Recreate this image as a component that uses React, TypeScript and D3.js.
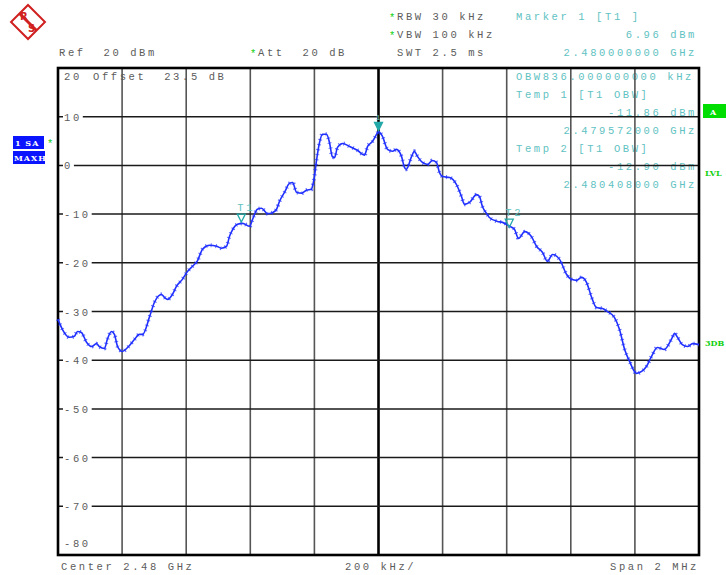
import * as d3 from "d3";
import { useEffect, useRef } from "react";

// trace: offset from centre in kHz, level in dBm
const traceKHz = [
  -1000, -986, -964, -949, -939, -927, -911, -895, -880, -871, -855, -846, -833, -824, -814, -799,
  -783, -761, -746, -736, -714, -699, -677, -668, -658, -643, -630, -612, -596, -580, -565, -549,
  -527, -505, -490, -474, -465, -456, -440, -424, -402, -393, -378, -365, -346, -331, -318, -309,
  -293, -278, -268, -256, -240, -225, -209, -206, -200, -193, -184, -175, -162, -153, -144, -137,
  -128, -112, -90, -66, -44, -34, -19, -3, 0, 12, 28, 44, 56, 72, 81, 87, 103, 112, 122, 137, 153,
  168, 181, 190, 200, 222, 243, 259, 268, 284, 306, 315, 324, 340, 346, 371, 387, 409, 424, 437,
  456, 477, 493, 512, 527, 543, 565, 587, 602, 618, 633, 649, 665, 680, 699, 714, 736, 752, 768,
  783, 805, 821, 836, 852, 870, 892, 914, 924, 933, 948, 964, 980, 1000,
];
const traceDbm = [
  -31.6, -33.7, -35.3, -35.1, -34.1, -34.3, -36.3, -37.2, -36.6, -37.2, -37.6, -35.7, -34.1, -34.7, -37.2, -38.2,
  -37.4, -35.7, -34.7, -34.7, -31.0, -28.1, -26.5, -27.1, -27.5, -26.5, -24.8, -23.4, -21.8, -20.7, -19.6, -17.2,
  -16.4, -16.6, -17.0, -16.6, -14.6, -13.3, -12.1, -11.9, -12.5, -11.1, -9.0, -8.8, -9.9, -9.7, -9.0, -7.4,
  -5.5, -3.7, -3.5, -5.5, -5.7, -5.1, -4.9, -4.3, -2.3, 1.2, 4.7, 6.4, 6.4, 4.7, 1.8, 1.6,
  3.7, 4.5, 3.9, 3.1, 2.1, 3.9, 4.9, 6.7, 6.96, 6.0, 3.3, 2.9, 3.3, 1.8, -0.4, -0.8, 1.8, 2.9, 1.8, 0.6, 0.2,
  1.0, 0.6, -1.4, -2.3, -2.5, -3.9, -6.4, -8.0, -7.6, -6.0, -6.4, -8.4, -10.1, -10.7, -11.5, -11.7, -12.5, -13.1, -15.0,
  -13.6, -14.6, -16.6, -17.9, -19.7, -18.3, -19.3, -22.4, -23.4, -23.6, -23.0, -24.0, -27.1, -29.2, -29.4, -30.0, -31.2, -33.7, -37.8,
  -40.2, -42.7, -42.3, -41.3, -39.2, -37.4, -37.8, -35.7, -34.5, -35.3, -36.8, -37.2, -36.6, -36.8,
];

const yTicks = [10, 0, -10, -20, -30, -40, -50, -60, -70];
const xGrid = d3.range(-1000, 1001, 200);

const markers = [
  { name: "1", f: 0, level: 6.96, filled: true },
  { name: "T1", f: -428, level: -11.86, filled: false },
  { name: "T2", f: 408, level: -12.9, filled: false },
];

const headerLeft = [
  { text: "Ref  20 dBm", x: 59, y: 56 },
  { text: "Att  20 dB", x: 258, y: 56, star: true },
  { text: "RBW 30 kHz", x: 397, y: 20, star: true },
  { text: "VBW 100 kHz", x: 397, y: 38, star: true },
  { text: "SWT 2.5 ms", x: 397, y: 56 },
];
const markerInfoRight = [
  { text: "Marker 1 [T1 ]", y: 20, left: true },
  { text: "6.96 dBm", y: 38 },
  { text: "2.480000000 GHz", y: 56 },
  { text: "OBW836.000000000 kHz", y: 80, left: true },
  { text: "Temp 1 [T1 OBW]", y: 98, left: true },
  { text: "-11.86 dBm", y: 116 },
  { text: "2.479572000 GHz", y: 134 },
  { text: "Temp 2 [T1 OBW]", y: 152, left: true },
  { text: "-12.90 dBm", y: 170 },
  { text: "2.480408000 GHz", y: 188 },
];

const FONT = "'Liberation Mono', 'DejaVu Sans Mono', monospace";
const GRAY = "#5c5c5c";
const TEAL = "#5fc2c2";
const GREEN = "#10d010";

export default function App() {
  const svgRef = useRef<SVGSVGElement>(null);
  const width = 726;
  const height = 575;

  useEffect(() => {
    const svg = d3.select(svgRef.current);
    svg.selectAll("*").remove();

    const x = d3.scaleLinear().domain([-1000, 1000]).range([58, 699]);
    const y = d3.scaleLinear().domain([-80, 20]).range([555, 68]);

    const txt = (g: any, s: string, px: number, py: number, color: string, anchor = "start") =>
      g.append("text")
        .attr("x", px)
        .attr("y", py)
        .attr("fill", color)
        .attr("font-family", FONT)
        .attr("font-size", 10.5)
        .attr("letter-spacing", 2.6)
        .attr("text-anchor", anchor)
        .style("white-space", "pre")
        .text(s);

    // logo
    const logo = svg.append("g").attr("transform", "translate(28,22) rotate(45)");
    logo.append("rect").attr("x", -12).attr("y", -12).attr("width", 24).attr("height", 24)
      .attr("fill", "white").attr("stroke", "#d02020").attr("stroke-width", 2);
    logo.append("line").attr("x1", -12).attr("y1", 0).attr("x2", 12).attr("y2", 0)
      .attr("stroke", "#d02020").attr("stroke-width", 3);
    const logoTxt = svg.append("g").attr("font-family", "'DejaVu Sans'").attr("font-weight", "bold")
      .attr("font-size", 10).attr("fill", "#d02020");
    logoTxt.append("text").attr("x", 20).attr("y", 20).text("R");
    logoTxt.append("text").attr("x", 28).attr("y", 32).text("S");

    // header
    headerLeft.forEach((h) => {
      txt(svg, h.text, h.x, h.y, GRAY);
      if (h.star) txt(svg, "*", h.x - 8, h.y + 1, GREEN);
    });
    markerInfoRight.forEach((m) => {
      if (m.left) txt(svg, m.text, 516, m.y, TEAL);
      else txt(svg, m.text, 697, m.y, TEAL, "end");
    });

    // grid
    const grid = svg.append("g");
    grid.selectAll("line.v")
      .data(xGrid.slice(1, -1))
      .enter()
      .append("line")
      .attr("x1", (d) => x(d))
      .attr("x2", (d) => x(d))
      .attr("y1", y(20))
      .attr("y2", y(-80))
      .attr("stroke", (d) => (d === 0 ? "#000" : "#555"))
      .attr("stroke-width", (d) => (d === 0 ? 2.6 : 1.6));
    grid.selectAll("line.h")
      .data(yTicks)
      .enter()
      .append("line")
      .attr("x1", x(-1000))
      .attr("x2", x(1000))
      .attr("y1", (d) => y(d))
      .attr("y2", (d) => y(d))
      .attr("stroke", "#1a1a1a")
      .attr("stroke-width", 1.5);

    // y labels with white gap
    yTicks.forEach((t) => {
      const s = String(t);
      const w = s.length * 8.9 + 2;
      svg.append("rect").attr("x", 63).attr("y", y(t) - 5).attr("width", w).attr("height", 10).attr("fill", "white");
      txt(svg, s, 64, y(t) + 4, GRAY);
    });
    txt(svg, "20", 64, 80, GRAY);
    txt(svg, "Offset  23.5 dB", 93, 80, GRAY);
    txt(svg, "-80", 64, 547, GRAY);

    // frame
    svg.append("rect")
      .attr("x", x(-1000))
      .attr("y", y(20))
      .attr("width", x(1000) - x(-1000))
      .attr("height", y(-80) - y(20))
      .attr("fill", "none")
      .attr("stroke", "#000")
      .attr("stroke-width", 2.6);

    // trace
    const pts = traceKHz.map((f, i) => [f, traceDbm[i]] as [number, number]);
    const line = d3.line<[number, number]>()
      .x((d) => x(d[0]))
      .y((d) => y(d[1]))
      .curve(d3.curveMonotoneX);
    svg.append("path")
      .attr("d", line(pts))
      .attr("fill", "none")
      .attr("stroke", "#2030ff")
      .attr("stroke-width", 1.6);
    svg.append("path")
      .attr("d", line(pts))
      .attr("fill", "none")
      .attr("stroke", "#2030ff")
      .attr("stroke-width", 4)
      .attr("stroke-dasharray", "1 4")
      .attr("opacity", 0.7);

    // markers
    markers.forEach((m) => {
      const mx = x(m.f);
      const my = y(m.level);
      svg.append("path")
        .attr("d", `M${mx - 4},${my - 9} L${mx + 4},${my - 9} L${mx},${my - 1} Z`)
        .attr("fill", m.filled ? "#22a8a8" : "none")
        .attr("stroke", "#22a8a8")
        .attr("stroke-width", 1.3);
      txt(svg, m.name, mx - (m.filled ? 3 : 4), my - 12, TEAL).attr("font-size", m.filled ? 8 : 10.5);
    });

    // side labels
    svg.append("rect").attr("x", 13).attr("y", 136).attr("width", 31).attr("height", 13).attr("fill", "#0a14ff");
    svg.append("rect").attr("x", 13).attr("y", 151).attr("width", 32).attr("height", 13).attr("fill", "#0a14ff");
    const side = svg.append("g").attr("font-family", "'DejaVu Serif'").attr("font-weight", "bold")
      .attr("font-size", 8).attr("fill", "white").attr("letter-spacing", 1);
    side.append("text").attr("x", 15).attr("y", 146).text("1 SA");
    side.append("text").attr("x", 14).attr("y", 161).text("MAXH");
    txt(svg, "*", 47, 147, GREEN);

    svg.append("rect").attr("x", 703).attr("y", 104).attr("width", 23).attr("height", 14).attr("fill", "#00dd00");
    const right = svg.append("g").attr("font-family", "'DejaVu Serif'").attr("font-weight", "bold").attr("font-size", 8);
    right.append("text").attr("x", 710).attr("y", 115).attr("fill", "white").text("A");
    right.append("text").attr("x", 705).attr("y", 176).attr("fill", GREEN).text("LVL");
    right.append("text").attr("x", 705).attr("y", 346).attr("fill", GREEN).text("3DB");

    // footer
    txt(svg, "Center 2.48 GHz", 61, 570, GRAY);
    txt(svg, "200 kHz/", 345, 570, GRAY);
    txt(svg, "Span 2 MHz", 699, 570, GRAY, "end");
  }, []);

  return (
    <svg
      ref={svgRef}
      width={width}
      height={height}
      style={{ position: "absolute", left: 0, top: 0, background: "white" }}
    />
  );
}
